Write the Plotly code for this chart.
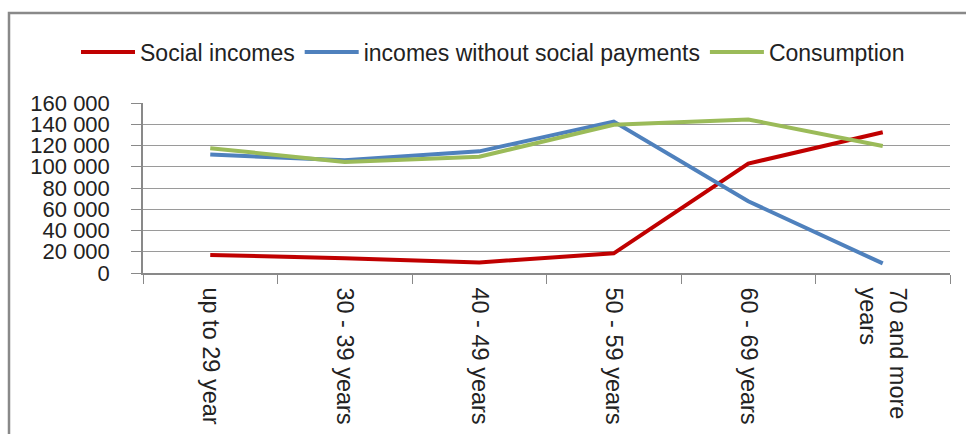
import plotly.graph_objects as go

categories = ["up to 29 year", "30 - 39 years", "40 - 49 years", "50 - 59 years", "60 - 69 years", "70 and more<br>years"]
social_incomes = [17000, 14000, 10000, 18500, 103000, 132500]
incomes_without_social = [111500, 106000, 114500, 142500, 67500, 9000]
consumption = [117500, 104500, 109500, 139500, 144500, 119500]
y_ticks = [0, 20000, 40000, 60000, 80000, 100000, 120000, 140000, 160000]
y_tick_labels = ["0", "20 000", "40 000", "60 000", "80 000", "100 000", "120 000", "140 000", "160 000"]

FONT = "Liberation Sans, Arial, sans-serif"

fig = go.Figure()
fig.add_trace(go.Scatter(x=categories, y=social_incomes, mode="lines", name="Social incomes",
                         line=dict(color="#C00000", width=4)))
fig.add_trace(go.Scatter(x=categories, y=incomes_without_social, mode="lines", name="incomes without social payments",
                         line=dict(color="#4F81BD", width=4)))
fig.add_trace(go.Scatter(x=categories, y=consumption, mode="lines", name="Consumption",
                         line=dict(color="#9BBB59", width=4)))

W, H = 966, 434
L, R, T, B = 143, 16, 103, 161
pw = W - L - R
ph = H - T - B

def px_x(x):
    return (x - L) / pw

def px_y(y):
    return (H - B - y) / ph

fig.update_layout(
    width=W, height=H,
    margin=dict(l=L, r=R, t=T, b=B, autoexpand=False),
    paper_bgcolor="white", plot_bgcolor="white",
    font=dict(family=FONT, color="#222222"),
    showlegend=True,
    legend=dict(orientation="h", x=px_x(76), xanchor="left", y=px_y(52), yanchor="middle",
                font=dict(size=23, family=FONT, color="#222222"), itemwidth=54,
                bgcolor="rgba(0,0,0,0)", tracegroupgap=0),
    xaxis=dict(type="category", tickson="boundaries", ticks="outside", ticklen=9, tickcolor="#898989",
               showline=True, linecolor="#898989", linewidth=1.5, showgrid=False, automargin=False,
               tickangle=90, ticklabelstandoff=8,
               tickfont=dict(size=23.5, family=FONT, color="#222222"),
               range=[-0.5, 5.5]),
    yaxis=dict(range=[0, 160000], tickvals=y_ticks, ticktext=y_tick_labels, ticks="outside", ticklen=10,
               tickcolor="#898989", showline=True, linecolor="#898989", linewidth=1.5,
               showgrid=True, gridcolor="#9a9a9a", gridwidth=1.2, zeroline=False, automargin=False,
               ticklabelstandoff=17,
               tickfont=dict(size=22, family=FONT, color="#222222")),
    shapes=[dict(type="path", xref="paper", yref="paper",
                 path=f"M {px_x(9)} {px_y(440)} L {px_x(9)} {px_y(13)} L {px_x(975)} {px_y(13)}",
                 line=dict(color="#898989", width=2.5))],
)

fig.write_html("out.html", config={"displayModeBar": False},
               post_script="document.body.style.margin='0';document.body.style.overflow='hidden';")
